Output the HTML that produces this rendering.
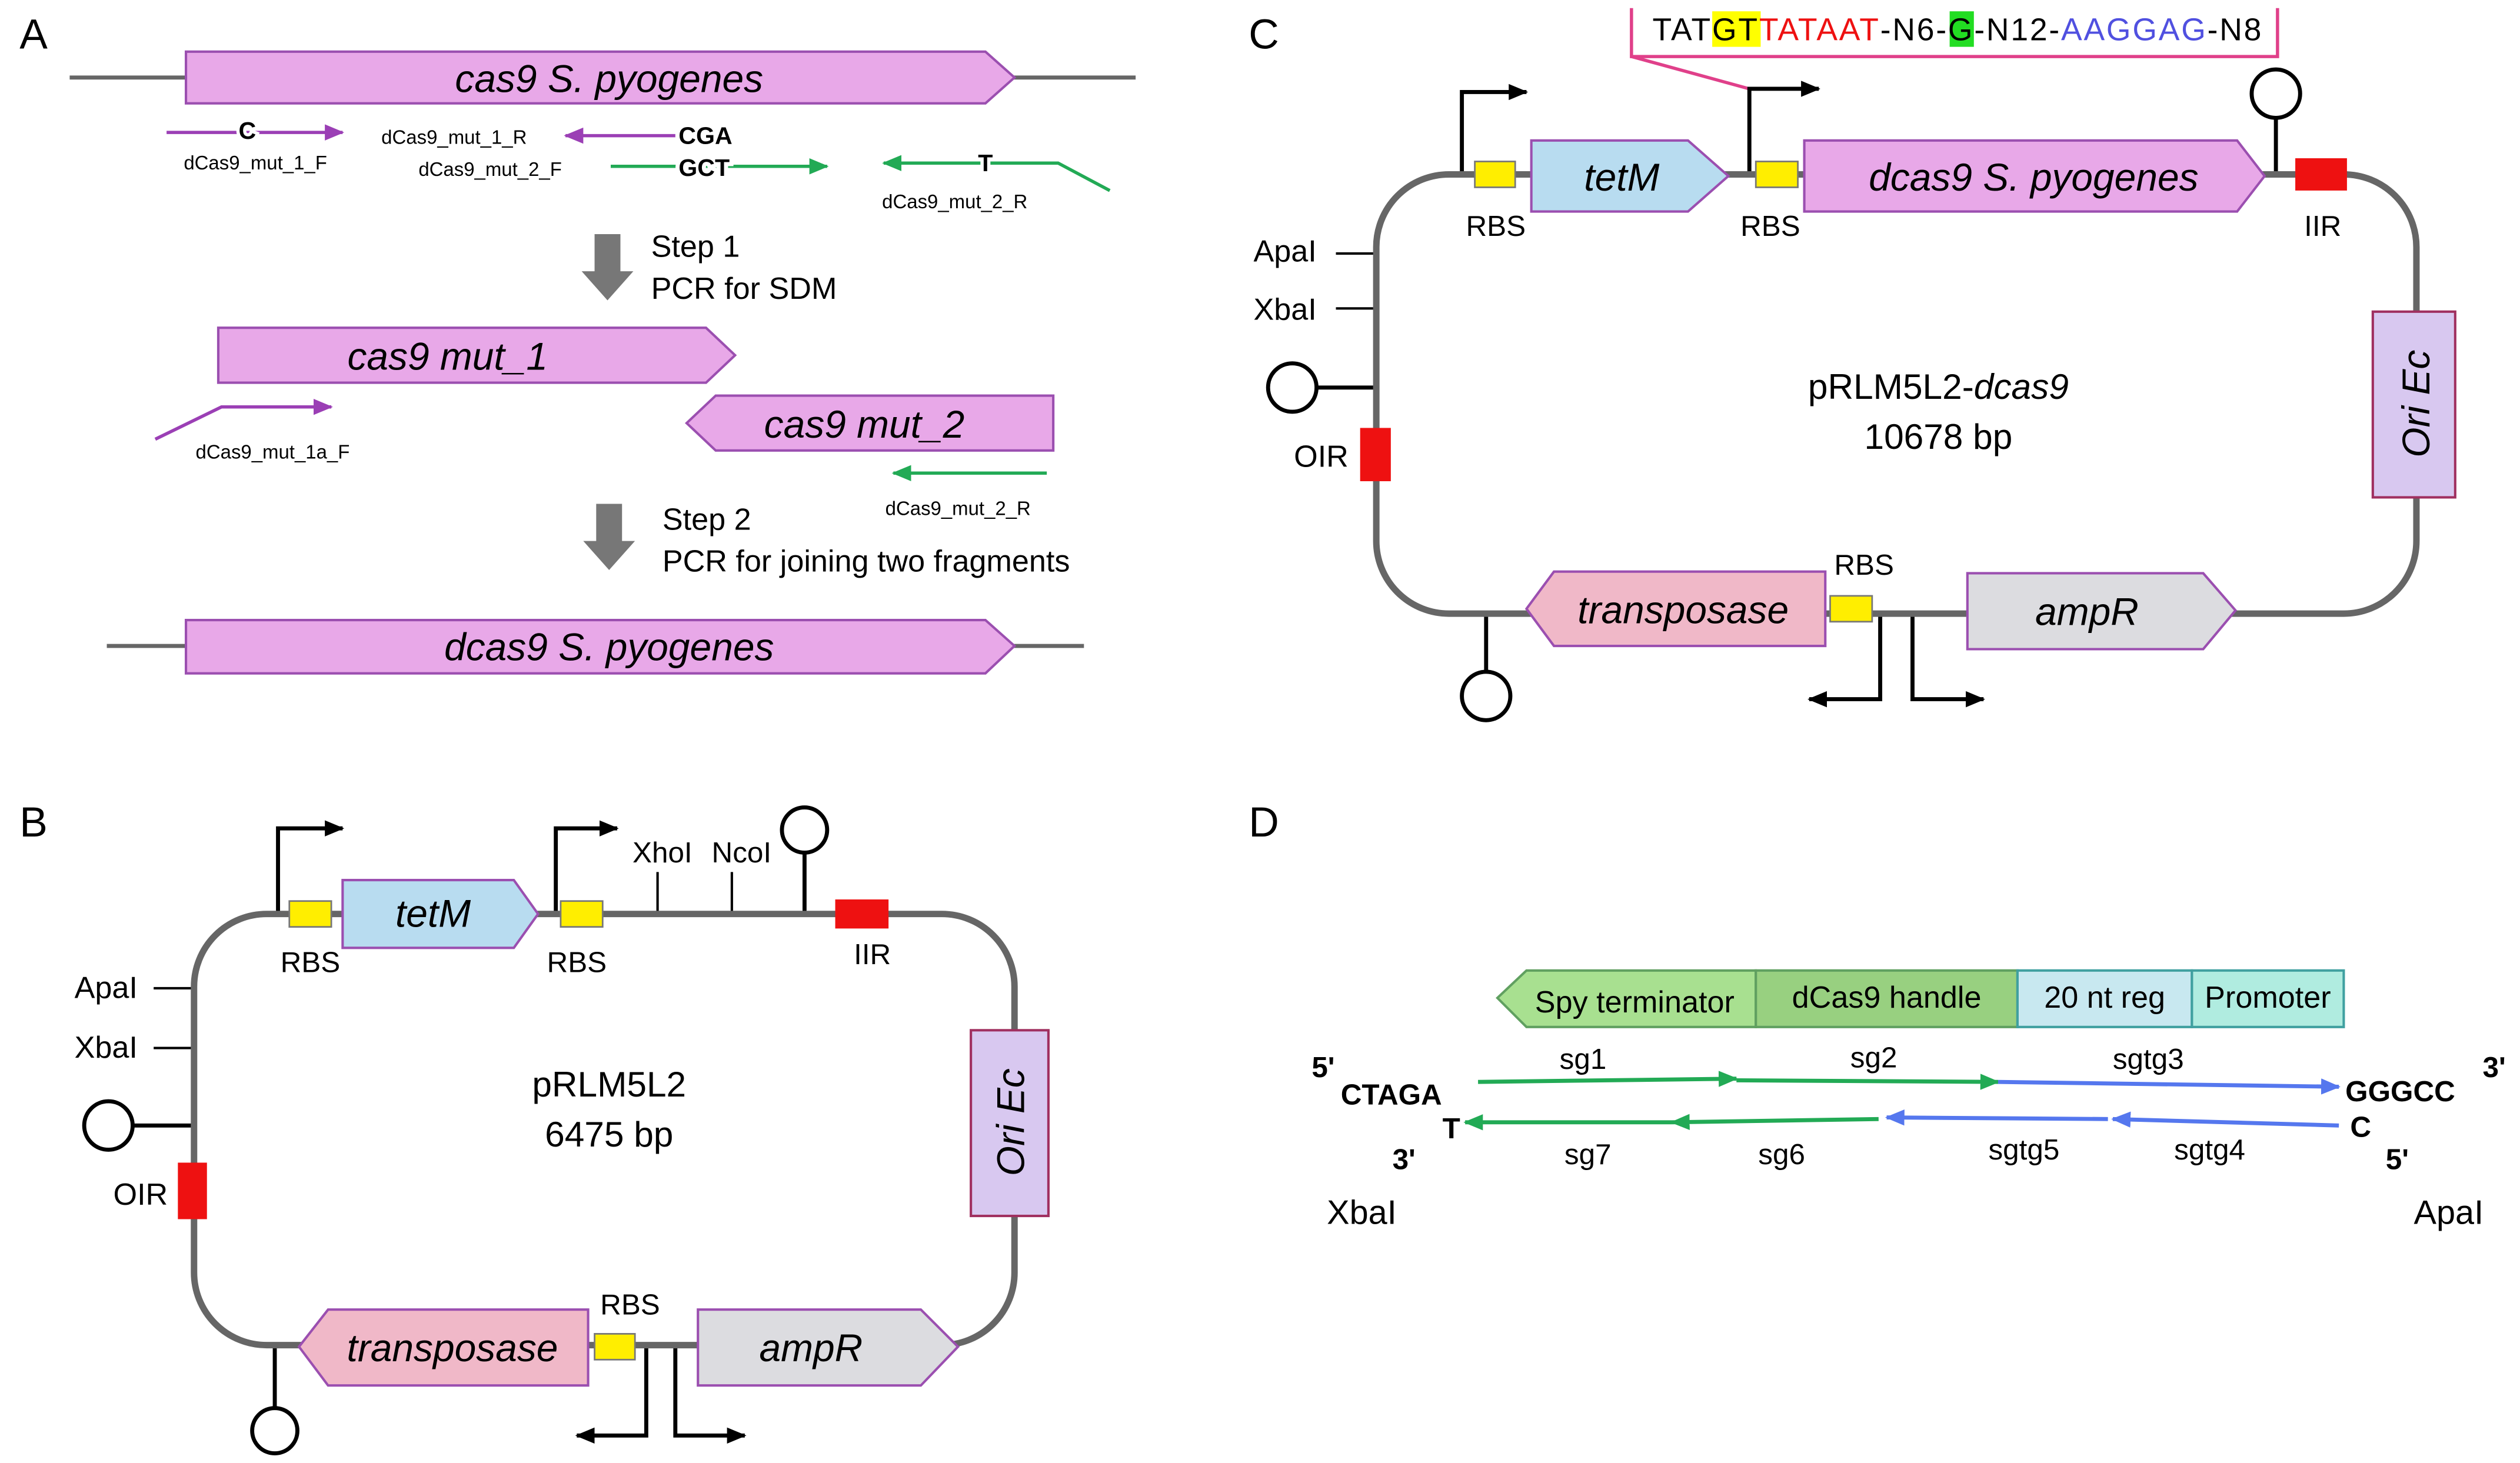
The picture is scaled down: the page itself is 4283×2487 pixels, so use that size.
<!DOCTYPE html>
<html><head><meta charset="utf-8"><style>html,body{margin:0;padding:0;background:#fff}svg{display:block}text{font-family:"Liberation Sans",Arial,sans-serif}</style></head><body>
<svg width="4283" height="2487" viewBox="0 0 1560 906" xmlns="http://www.w3.org/2000/svg">
<defs>
<marker id="ap" markerUnits="userSpaceOnUse" markerWidth="12" markerHeight="10" refX="11" refY="5" orient="auto"><path d="M0,0 L12,5 L0,10 z" fill="#9b3fb5"/></marker>
<marker id="ag" markerUnits="userSpaceOnUse" markerWidth="12" markerHeight="10" refX="11" refY="5" orient="auto"><path d="M0,0 L12,5 L0,10 z" fill="#22aa55"/></marker>
<marker id="ab" markerUnits="userSpaceOnUse" markerWidth="12" markerHeight="10" refX="11" refY="5" orient="auto"><path d="M0,0 L12,5 L0,10 z" fill="#5577ee"/></marker>
<marker id="ak" markerUnits="userSpaceOnUse" markerWidth="12" markerHeight="10" refX="11" refY="5" orient="auto"><path d="M0,0 L12,5 L0,10 z" fill="#000"/></marker>
</defs>
<g font-size="26"><text x="12" y="30">A</text><text x="12" y="518">B</text><text x="773" y="30">C</text><text x="773" y="518">D</text></g>

<!-- Panel A -->
<line x1="43" y1="48" x2="703" y2="48" stroke="#666" stroke-width="2.5"/>
<path d="M115,32 H610 L628,48 L610,64 H115 Z" fill="#e8a8e8" stroke="#9b4fb0" stroke-width="1.5"/>
<text x="377" y="57" font-size="24" font-style="italic" text-anchor="middle">cas9 S. pyogenes</text>
<line x1="103" y1="82" x2="212" y2="82" stroke="#9b3fb5" stroke-width="2" marker-end="url(#ap)"/>
<text x="153" y="86" font-size="15" font-weight="bold" text-anchor="middle" fill="#000" stroke="#fff" stroke-width="4" paint-order="stroke">C</text>
<text x="158" y="105" font-size="12" text-anchor="middle">dCas9_mut_1_F</text>
<line x1="418" y1="84" x2="350" y2="84" stroke="#9b3fb5" stroke-width="2" marker-end="url(#ap)"/>
<text x="236" y="89" font-size="12">dCas9_mut_1_R</text>
<text x="420" y="89" font-size="15" font-weight="bold">CGA</text>
<text x="259" y="109" font-size="12">dCas9_mut_2_F</text>
<line x1="378" y1="103" x2="512" y2="103" stroke="#22aa55" stroke-width="2" marker-end="url(#ag)"/>
<text x="420" y="109" font-size="15" font-weight="bold" stroke="#fff" stroke-width="5" paint-order="stroke">GCT</text>
<polyline points="687,118 655,101 547,101" fill="none" stroke="#22aa55" stroke-width="2" marker-end="url(#ag)"/>
<text x="610" y="106" font-size="15" font-weight="bold" text-anchor="middle" stroke="#fff" stroke-width="4" paint-order="stroke">T</text>
<text x="546" y="129" font-size="12">dCas9_mut_2_R</text>
<path d="M368,145 H384 V168 H392 L376,186 L360,168 H368 Z" fill="#777"/>
<text x="403" y="159" font-size="19">Step 1</text><text x="403" y="185" font-size="19">PCR for SDM</text>
<path d="M135,203 H437 L455,220 L437,237 H135 Z" fill="#e8a8e8" stroke="#9b4fb0" stroke-width="1.5"/>
<text x="277" y="229" font-size="24" font-style="italic" text-anchor="middle">cas9 mut_1</text>
<polyline points="96,272 137,252 205,252" fill="none" stroke="#9b3fb5" stroke-width="2" marker-end="url(#ap)"/>
<text x="121" y="284" font-size="12">dCas9_mut_1a_F</text>
<path d="M443,245 H652 V279 H443 L425,262 Z" fill="#e8a8e8" stroke="#9b4fb0" stroke-width="1.5"/>
<text x="535" y="271" font-size="24" font-style="italic" text-anchor="middle">cas9 mut_2</text>
<line x1="648" y1="293" x2="553" y2="293" stroke="#22aa55" stroke-width="2" marker-end="url(#ag)"/>
<text x="548" y="319" font-size="12">dCas9_mut_2_R</text>
<path d="M369,312 H385 V335 H393 L377,353 L361,335 H369 Z" fill="#777"/>
<text x="410" y="328" font-size="19">Step 2</text><text x="410" y="354" font-size="19">PCR for joining two fragments</text>
<line x1="66" y1="400" x2="671" y2="400" stroke="#666" stroke-width="2.5"/>
<path d="M115,384 H610 L628,400 L610,417 H115 Z" fill="#e8a8e8" stroke="#9b4fb0" stroke-width="1.5"/>
<text x="377" y="409" font-size="24" font-style="italic" text-anchor="middle">dcas9 S. pyogenes</text>

<!-- Panel B -->
<g stroke="#000" stroke-width="2.5" fill="none">
<polyline points="172,566 172,513 212,513" marker-end="url(#ak)"/>
<polyline points="344,566 344,513 382,513" marker-end="url(#ak)"/>
<line x1="407" y1="540" x2="407" y2="566" stroke-width="1.5"/>
<line x1="453" y1="540" x2="453" y2="566" stroke-width="1.5"/>
<line x1="498" y1="566" x2="498" y2="528"/><circle cx="498" cy="514" r="14" fill="#fff"/>
<line x1="95" y1="612" x2="120" y2="612" stroke-width="1.5"/><line x1="95" y1="649" x2="120" y2="649" stroke-width="1.5"/>
<line x1="82" y1="697" x2="120" y2="697"/><circle cx="67" cy="697" r="15" fill="#fff"/>
<polyline points="400,833 400,889 357,889" marker-end="url(#ak)"/>
<polyline points="418,833 418,889 461,889" marker-end="url(#ak)"/>
<line x1="170" y1="833" x2="170" y2="872"/><circle cx="170" cy="886" r="14" fill="#fff"/>
</g>
<rect x="120" y="566" width="508" height="267" rx="45" fill="none" stroke="#666" stroke-width="4"/>
<rect x="179" y="558" width="26" height="16" fill="#ffee00" stroke="#777"/>
<rect x="347" y="558" width="26" height="16" fill="#ffee00" stroke="#777"/>
<path d="M212,545 H318 L333,566 L318,587 H212 Z" fill="#b8dcf0" stroke="#9b4fb0" stroke-width="1.5"/>
<text x="268" y="574" font-size="24" font-style="italic" text-anchor="middle">tetM</text>
<g font-size="18" text-anchor="middle"><text x="192" y="602">RBS</text><text x="357" y="602">RBS</text><text x="410" y="534">XhoI</text><text x="459" y="534">NcoI</text><text x="540" y="597">IIR</text><text x="390" y="814">RBS</text></g>
<rect x="517" y="557" width="33" height="18" fill="#ee1111"/>
<g font-size="19"><text x="46" y="618">ApaI</text><text x="46" y="655">XbaI</text><text x="70" y="746">OIR</text></g>
<rect x="110" y="720" width="18" height="35" fill="#ee1111"/>
<rect x="601" y="638" width="48" height="115" fill="#d8c8f0" stroke="#a03060" stroke-width="1.5"/>
<text transform="translate(634,695) rotate(-90)" font-size="24" font-style="italic" text-anchor="middle">Ori Ec</text>
<text x="377" y="679" font-size="22" text-anchor="middle">pRLM5L2</text><text x="377" y="710" font-size="22" text-anchor="middle">6475 bp</text>
<path d="M203,811 H364 V858 H203 L185,834 Z" fill="#f0b8c8" stroke="#9b4fb0" stroke-width="1.5"/>
<text x="280" y="843" font-size="24" font-style="italic" text-anchor="middle">transposase</text>
<rect x="368" y="826" width="25" height="16" fill="#ffee00" stroke="#777"/>
<path d="M432,811 H570 L593,834 L570,858 H432 Z" fill="#dcdce0" stroke="#9b4fb0" stroke-width="1.5"/>
<text x="502" y="843" font-size="24" font-style="italic" text-anchor="middle">ampR</text>

<!-- Panel C -->
<polyline points="1010,5 1010,35 1410,35 1410,5" fill="none" stroke="#e0408a" stroke-width="2"/>
<line x1="1010" y1="35" x2="1083" y2="55" stroke="#e0408a" stroke-width="2"/>
<rect x="1060" y="7" width="30" height="22" fill="#ffff00"/>
<rect x="1207" y="7" width="15" height="22" fill="#22dd22"/>
<text x="1023" y="25" font-size="19.5" textLength="377" lengthAdjust="spacing"><tspan>TAT</tspan><tspan>GT</tspan><tspan fill="#ee1111">TATAAT</tspan><tspan>-N6-</tspan><tspan>G</tspan><tspan>-N12-</tspan><tspan fill="#5050e0">AAGGAG</tspan><tspan>-N8</tspan></text>
<g stroke="#000" stroke-width="2.5" fill="none">
<polyline points="905,108 905,57 945,57" marker-end="url(#ak)"/>
<polyline points="1083,108 1083,55 1126,55" marker-end="url(#ak)"/>
<line x1="1409" y1="108" x2="1409" y2="73"/><circle cx="1409" cy="58" r="15" fill="#fff"/>
<line x1="827" y1="157" x2="852" y2="157" stroke-width="1.5"/><line x1="827" y1="191" x2="852" y2="191" stroke-width="1.5"/>
<line x1="815" y1="240" x2="852" y2="240"/><circle cx="800" cy="240" r="15" fill="#fff"/>
<polyline points="1164,380 1164,433 1120,433" marker-end="url(#ak)"/>
<polyline points="1184,380 1184,433 1228,433" marker-end="url(#ak)"/>
<line x1="920" y1="380" x2="920" y2="416"/><circle cx="920" cy="431" r="15" fill="#fff"/>
</g>
<rect x="852" y="108" width="644" height="272" rx="45" fill="none" stroke="#666" stroke-width="4"/>
<rect x="913" y="100" width="25" height="16" fill="#ffee00" stroke="#777"/>
<rect x="1087" y="100" width="26" height="16" fill="#ffee00" stroke="#777"/>
<path d="M948,87 H1045 L1070,109 L1045,131 H948 Z" fill="#b8dcf0" stroke="#9b4fb0" stroke-width="1.5"/>
<text x="1004" y="118" font-size="24" font-style="italic" text-anchor="middle">tetM</text>
<path d="M1117,87 H1385 L1402,109 L1385,131 H1117 Z" fill="#e8a8e8" stroke="#9b4fb0" stroke-width="1.5"/>
<text x="1259" y="118" font-size="24" font-style="italic" text-anchor="middle">dcas9 S. pyogenes</text>
<rect x="1421" y="98" width="32" height="20" fill="#ee1111"/>
<g font-size="18" text-anchor="middle"><text x="926" y="146">RBS</text><text x="1096" y="146">RBS</text><text x="1438" y="146">IIR</text><text x="1154" y="356">RBS</text></g>
<g font-size="19"><text x="776" y="162">ApaI</text><text x="776" y="198">XbaI</text><text x="801" y="289">OIR</text></g>
<rect x="842" y="265" width="19" height="33" fill="#ee1111"/>
<rect x="1469" y="193" width="51" height="115" fill="#d8c8f0" stroke="#a03060" stroke-width="1.5"/>
<text transform="translate(1504,250) rotate(-90)" font-size="24" font-style="italic" text-anchor="middle">Ori Ec</text>
<text x="1200" y="247" font-size="22" text-anchor="middle">pRLM5L2-<tspan font-style="italic">dcas9</tspan></text>
<text x="1200" y="278" font-size="22" text-anchor="middle">10678 bp</text>
<path d="M962,354 H1130 V400 H962 L945,377 Z" fill="#f0b8c8" stroke="#9b4fb0" stroke-width="1.5"/>
<text x="1042" y="386" font-size="24" font-style="italic" text-anchor="middle">transposase</text>
<rect x="1133" y="369" width="26" height="16" fill="#ffee00" stroke="#777"/>
<path d="M1218,355 H1364 L1384,378 L1364,402 H1218 Z" fill="#dcdce0" stroke="#9b4fb0" stroke-width="1.5"/>
<text x="1292" y="387" font-size="24" font-style="italic" text-anchor="middle">ampR</text>

<!-- Panel D -->
<path d="M945,601 H1087 V636 H945 L927,618 Z" fill="#a8e090" stroke="#60a060" stroke-width="1.5"/>
<rect x="1087" y="601" width="162" height="35" fill="#98d080" stroke="#60a060" stroke-width="1.5"/>
<rect x="1249" y="601" width="108" height="35" fill="#c8e8f0" stroke="#40a0a0" stroke-width="1.5"/>
<rect x="1357" y="601" width="94" height="35" fill="#b0ece0" stroke="#40a0a0" stroke-width="1.5"/>
<g font-size="19" text-anchor="middle"><text x="1012" y="627">Spy terminator</text><text x="1168" y="624">dCas9 handle</text><text x="1303" y="624">20 nt reg</text><text x="1404" y="624">Promoter</text></g>
<g font-size="18" font-weight="bold"><text x="812" y="667">5'</text><text x="830" y="684">CTAGA</text><text x="1537" y="667">3'</text><text x="1452" y="682">GGGCC</text>
<text x="893" y="705">T</text><text x="862" y="724">3'</text><text x="1455" y="704">C</text><text x="1477" y="724">5'</text></g>
<g stroke-width="2.5">
<line x1="915" y1="670" x2="1075" y2="668" stroke="#22aa55" marker-end="url(#ag)"/>
<line x1="1075" y1="669" x2="1237" y2="670" stroke="#22aa55" marker-end="url(#ag)"/>
<line x1="1237" y1="670" x2="1448" y2="673" stroke="#5577ee" marker-end="url(#ab)"/>
<line x1="1035" y1="695" x2="907" y2="695" stroke="#22aa55" marker-end="url(#ag)"/>
<line x1="1163" y1="693" x2="1035" y2="695" stroke="#22aa55" marker-end="url(#ag)"/>
<line x1="1305" y1="693" x2="1168" y2="692" stroke="#5577ee" marker-end="url(#ab)"/>
<line x1="1448" y1="697" x2="1308" y2="693" stroke="#5577ee" marker-end="url(#ab)"/>
</g>
<g font-size="18" text-anchor="middle"><text x="980" y="662">sg1</text><text x="1160" y="661">sg2</text><text x="1330" y="662">sgtg3</text>
<text x="983" y="721">sg7</text><text x="1103" y="721">sg6</text><text x="1253" y="718">sgtg5</text><text x="1368" y="718">sgtg4</text></g>
<text x="843" y="758" font-size="21" text-anchor="middle">XbaI</text><text x="1516" y="758" font-size="21" text-anchor="middle">ApaI</text>
</svg>
</body></html>
